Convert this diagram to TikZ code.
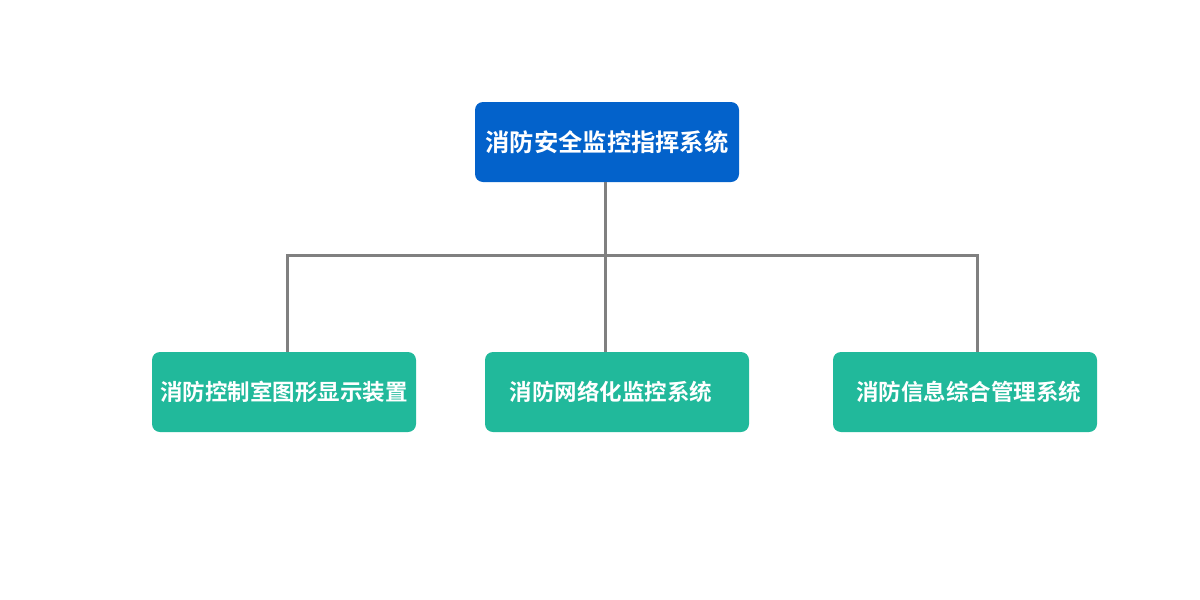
\documentclass[tikz,border=0pt]{standalone}
\usepackage{fontspec}
\newfontfamily\cjk{Noto Sans CJK SC}[BoldFont={* Bold}]
\definecolor{topblue}{HTML}{0362CB}
\definecolor{teal}{HTML}{21B99B}
\definecolor{linegray}{HTML}{808080}
\tikzset{
  box/.style={rectangle, rounded corners=8pt, minimum width=264pt, minimum height=80pt,
    inner sep=0pt, text=white, font=\cjk\bfseries\fontsize{22.5}{26}\selectfont},
  topbox/.style={box, fill=topblue, font=\cjk\bfseries\fontsize{24.3}{28}\selectfont},
  subbox/.style={box, fill=teal},
  conn/.style={draw=linegray, line width=3pt}
}
\begin{document}
\begin{tikzpicture}[x=1pt,y=-1pt]
\useasboundingbox (0,0) rectangle (1200,600);
\node[topbox] (top) at (607,142) {消防安全监控指挥系统};
\node[subbox] (left) at (284,392) {消防控制室图形显示装置};
\node[subbox] (mid) at (617,392) {消防网络化监控系统\kern12pt\relax};
\node[subbox] (right) at (965,392) {\hspace{7pt}消防信息综合管理系统};
\coordinate (hub) at (605,255.5);
\coordinate (hl) at (287,255.5);
\coordinate (hr) at (977,255.5);
\draw[conn] (top.south -| hub) -- (hub);
\draw[conn, line join=miter] (left.north -| hl) -- (hl) -- (hr) -- (right.north -| hr);
\draw[conn] (hub) -- (mid.north -| hub);
\end{tikzpicture}
\end{document}
